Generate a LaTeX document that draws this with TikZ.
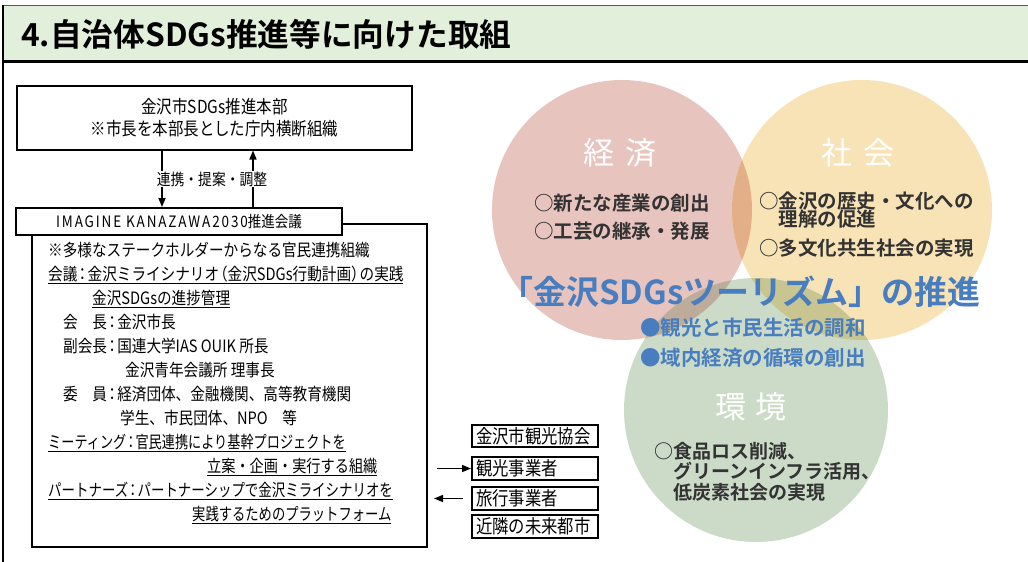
\documentclass[tikz,border=0pt]{standalone}
\usepackage{fontspec}
\usepackage{graphicx}
\setmainfont{Noto Sans CJK JP}[BoldFont=Noto Sans CJK JP Bold]
\newfontfamily\nar{Noto Sans CJK JP}[FakeStretch=0.86]
\newfontfamily\latw{Noto Sans CJK JP}[FakeStretch=0.86,LetterSpace=12]
\usetikzlibrary{arrows.meta}
\definecolor{hdrgreen}{RGB}{226,239,218}
\definecolor{hdrline}{RGB}{90,90,90}
\definecolor{cred}{RGB}{232,196,191}
\definecolor{cyel}{RGB}{247,227,181}
\definecolor{cgrn}{RGB}{203,219,200}
\definecolor{cry}{RGB}{226,175,136}
\definecolor{crg}{RGB}{190,172,154}
\definecolor{cyg}{RGB}{200,197,145}
\definecolor{sdgblue}{RGB}{72,125,191}
\definecolor{itemtxt}{RGB}{51,51,51}
\newcommand\ulin[1]{\setbox0\hbox{#1}\rlap{\rule[-3.6pt]{\wd0}{1.1pt}}\box0}
\newcommand\sqx[2]{\scalebox{#1}[1]{#2}}
\newcommand\pl{\makebox[0.5em][r]{（}}
\newcommand\pr{\makebox[0.5em][l]{）}}
\newcommand\pc{\makebox[0.6em][c]{：}}
\tikzset{
  bx/.style={draw=black, line width=2pt},
  arr/.style={line width=1.5pt, -{Triangle[length=9pt,width=7pt]}},
  lt/.style={anchor=base west, inner sep=0pt, font=\nar\fontsize{17}{20}\selectfont},
  sbox/.style={draw=black, line width=2.2pt, anchor=west, text width=118pt, align=left,
     inner xsep=4pt, inner ysep=0pt, minimum height=22.5pt, font=\nar\fontsize{19}{22}\selectfont},
  ctitle/.style={anchor=base, inner sep=0pt, text=white, font=\fontsize{31}{34}\selectfont},
  item/.style={anchor=base west, inner sep=0pt, text=itemtxt, font=\bfseries\fontsize{19.5}{21}\selectfont},
  gitem/.style={anchor=base west, inner sep=0pt, text=itemtxt, font=\bfseries\fontsize{19}{21}\selectfont},
  bitem/.style={anchor=base west, inner sep=0pt, text=sdgblue, font=\bfseries\fontsize{20.5}{22}\selectfont}
}
\begin{document}
\begin{tikzpicture}[x=1pt,y=-1pt]
\useasboundingbox (0,0) rectangle (1028,562);
% header
\fill[hdrgreen] (3,6) rectangle (1028,61);
\draw[hdrline, line width=1.6pt] (2,5.5) -- (1028,5.5);
\draw[black, line width=3pt] (2,61) -- (1028,61);
\draw[black, line width=2pt] (2.5,4.5) -- (2.5,562);
\node[anchor=base west, inner sep=0pt, font=\bfseries\fontsize{31.7}{34}\selectfont] (title) at (21,46.5) {4.自治体SDGs推進等に向けた取組};

% venn circles
\fill[cred] (622,210) circle[radius=130pt];
\fill[cyel] (862,210) circle[radius=130pt];
\fill[cgrn] (756,410) circle[radius=132pt];
\begin{scope}
  \clip (622,210) circle[radius=130pt];
  \fill[cry] (862,210) circle[radius=130pt];
  \fill[crg] (756,410) circle[radius=132pt];
\end{scope}
\begin{scope}
  \clip (862,210) circle[radius=130pt];
  \fill[cyg] (756,410) circle[radius=132pt];
\end{scope}

\node[ctitle] (keizai) at (620,164.8) {経\hspace{11pt}済};
\node[ctitle] (shakai) at (858,164.8) {社\hspace{11pt}会};
\node[ctitle] (kankyo) at (751,418.8) {環\hspace{9pt}境};

\node[item] (r1) at (534,210.1) {○新たな産業の創出};
\node[item] (r2) at (534,238.5) {○工芸の継承・発展};
\node[item] (y1) at (759,208) {○金沢の歴史・文化への};
\node[item] (y2) at (778.5,226.5) {理解の促進};
\node[item] (y3) at (759,255.5) {○多文化共生社会の実現};
\node[gitem] (g1) at (654,458.5) {○食品ロス削減、};
\node[gitem] (g2) at (673,478.5) {グリーンインフラ活用、};
\node[gitem] (g3) at (673,499.5) {低炭素社会の実現};

\node[anchor=base west, inner sep=0pt, text=sdgblue, font=\bfseries\fontsize{33}{36}\selectfont] (tour) at (500,304.5) {「金沢SDGsツーリズム」の推進};
\node[bitem] (b1) at (640,335.6) {●観光と市民生活の調和};
\node[bitem] (b2) at (640,365.6) {●域内経済の循環の創出};

% left organisation chart
\node[bx, minimum width=395pt, minimum height=64pt, align=center, inner sep=0pt,
      font=\nar\fontsize{18}{22}\selectfont] (hq) at (214.5,117.5)
  {金沢市SDGs推進本部\\※市長を本部長とした庁内横断組織};
\node[bx, fill=white, minimum width=326pt, minimum height=27pt, inner sep=0pt,
      font=\fontsize{15.7}{17}\selectfont] (im) at (179,221.5)
  {{\latw IMAGINE KANAZAWA2030}{\nar 推進会議}};
\coordinate (imr) at (343,224);
\coordinate (blc) at (32,235);
\draw[bx] (imr) -| (427,547) -| (blc);

\draw[arr] (hq.south -| 162,0) -- (im.north -| 162,0);
\draw[arr] (im.north -| 253,0) -- (hq.south -| 253,0);
\node[fill=white, inner xsep=0pt, inner ysep=1pt, font=\nar\fontsize{16}{18}\selectfont] (lab) at (212,179) {連携・提案・調整};

\node[lt] (l1) at (48,256.5) {※多様なステークホルダーからなる官民連携組織};
\node[lt] (l2) at (48,280.5) {\ulin{会議\pc 金沢ミライシナリオ\pl 金沢SDGs行動計画\pr の実践}};
\node[lt] (l3) at (92,304.5) {\ulin{金沢SDGsの進捗管理}};
\node[lt] (l4) at (63,328.5) {会　長\pc 金沢市長};
\node[lt] (l5) at (63,352.5) {副会長\pc 国連大学IAS OUIK 所長};
\node[lt] (l6) at (125,376.5) {金沢青年会議所 理事長};
\node[lt] (l7) at (63,400.5) {委　員\pc 経済団体、金融機関、高等教育機関};
\node[lt] (l8) at (120,424.5) {学生、市民団体、NPO　等};
\node[lt] (l9) at (48,448.5) {\sqx{0.9}{\ulin{ミーティング\pc 官民連携により基幹プロジェクトを}}};
\node[lt] (l10) at (207,472.5) {\sqx{0.97}{\ulin{立案・企画・実行する組織}}};
\node[lt] (l11) at (48,496.5) {\sqx{0.92}{\ulin{パートナーズ\pc パートナーシップで金沢ミライシナリオを}}};
\node[lt] (l12) at (192,520.5) {\sqx{0.91}{\ulin{実践するためのプラットフォーム}}};

% partner boxes
\node[sbox] (k1) at (471,436) {金沢市観光協会};
\node[sbox] (k2) at (471,468.5) {観光事業者};
\node[sbox] (k3) at (471,498.5) {旅行事業者};
\node[sbox] (k4) at (471,526.5) {近隣の未来都市};
\coordinate (ra) at (437,468.5);
\coordinate (lb) at (434,498.5);
\coordinate (lbs) at (463,498.5);
\draw[arr] (ra) -- (k2.west);
\draw[arr] (lbs) -- (lb);
\end{tikzpicture}
\end{document}
